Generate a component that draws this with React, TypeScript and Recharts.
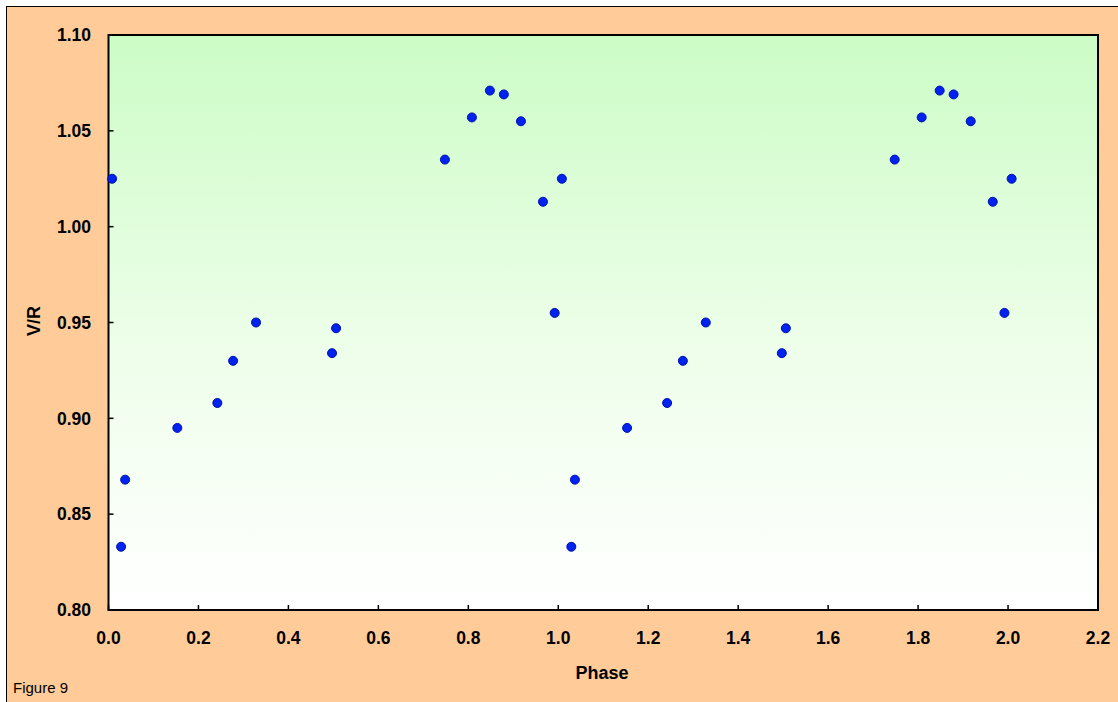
import React from 'react';
import {
  ScatterChart,
  Scatter,
  XAxis,
  YAxis,
  ReferenceArea,
} from 'recharts';

// phase of each observation (the 0-1 cycle repeated once more up to ~2.0)
const phases = [
  0.008, 0.028, 0.037, 0.153, 0.242, 0.277, 0.328, 0.497, 0.506, 0.748, 0.808,
  0.848, 0.879, 0.917, 0.966, 0.992, 1.008, 1.029, 1.037, 1.153, 1.242, 1.277,
  1.328, 1.497, 1.506, 1.748, 1.808, 1.848, 1.879, 1.917, 1.966, 1.992, 2.008,
];
const vrValues = [
  1.025, 0.833, 0.868, 0.895, 0.908, 0.930, 0.950, 0.934, 0.947, 1.035, 1.057,
  1.071, 1.069, 1.055, 1.013, 0.955, 1.025, 0.833, 0.868, 0.895, 0.908, 0.930,
  0.950, 0.934, 0.947, 1.035, 1.057, 1.071, 1.069, 1.055, 1.013, 0.955, 1.025,
];
const xTicks = [0, 0.2, 0.4, 0.6, 0.8, 1.0, 1.2, 1.4, 1.6, 1.8, 2.0, 2.2];
const yTicks = [0.8, 0.85, 0.9, 0.95, 1.0, 1.05, 1.1];

const points = phases.map((p, i) => ({ phase: p, vr: vrValues[i] }));

const FONT = '"Liberation Sans", Arial, sans-serif';
const tickStyle = { fill: '#000', fontFamily: FONT, fontWeight: 700, fontSize: 17.5 };

const Dot = (props: any) => {
  const { cx, cy } = props;
  if (cx == null || cy == null) return null;
  return <circle cx={cx} cy={cy} r={4.5} fill="#0022EE" stroke="#0010B0" strokeWidth={1} />;
};

export default function App() {
  return (
    <div style={{ position: 'absolute', left: 0, top: 0, width: 1118, height: 702, background: '#fff', overflow: 'hidden' }}>
      <div
        style={{
          position: 'absolute',
          left: 6,
          top: 6,
          width: 1118,
          height: 702,
          background: '#FFCC99',
          borderLeft: '1.5px solid #000',
          borderTop: '1.5px solid #000',
        }}
      />
      <div style={{ position: 'absolute', left: 0, top: 0 }}>
        <ScatterChart width={1118} height={702} margin={{ top: 35, right: 20, bottom: 32, left: 8.5 }}>
          <defs>
            <linearGradient id="plotBg" x1="0" y1="0" x2="0" y2="1">
              <stop offset="0%" stopColor="#CCFCC6" />
              <stop offset="55%" stopColor="#EEFEEA" />
              <stop offset="100%" stopColor="#FFFFFF" />
            </linearGradient>
          </defs>
          <ReferenceArea
            x1={0}
            x2={2.2}
            y1={0.8}
            y2={1.1}
            fill="url(#plotBg)"
            fillOpacity={1}
            stroke="#000"
            strokeWidth={2}
          />
          <XAxis
            type="number"
            dataKey="phase"
            domain={[0, 2.2]}
            ticks={xTicks}
            tickFormatter={(v: number) => v.toFixed(1)}
            height={60}
            axisLine={false}
            tickSize={-5}
            tickMargin={27}
            tickLine={{ stroke: '#000', strokeWidth: 1.5 }}
            tick={tickStyle}
            interval={0}
          />
          <YAxis
            type="number"
            dataKey="vr"
            domain={[0.8, 1.1]}
            ticks={yTicks}
            tickFormatter={(v: number) => v.toFixed(2)}
            width={100}
            axisLine={false}
            tickSize={-5}
            tickMargin={22.5}
            tickLine={{ stroke: '#000', strokeWidth: 1.5 }}
            tick={tickStyle}
            interval={0}
          />
          <Scatter data={points} shape={Dot} isAnimationActive={false} />
          <text x={602} y={679} textAnchor="middle" fontFamily={FONT} fontWeight={700} fontSize={18} fill="#000">
            Phase
          </text>
          <text
            transform="translate(40,321) rotate(-90)"
            textAnchor="middle"
            fontFamily={FONT}
            fontWeight={700}
            fontSize={18}
            fill="#000"
          >
            V/R
          </text>
          <text x={132} y={68} fontFamily={FONT} fontWeight={700} fontSize={22.5} fill="#000">
            Hα
          </text>
          <text x={180} y={68} fontFamily={FONT} fontWeight={700} fontSize={23.5} fill="#000">
            HR2142
          </text>
          <text x={198} y={90} textAnchor="middle" fontFamily={FONT} fontWeight={700} fontSize={14.5} fill="#000">
            2003/09-2004/04
          </text>
          <text x={125} y={126} fontFamily={FONT} fontWeight={700} fontSize={15.5} fill="#000">
            Phase: 134.75-137.24
          </text>
          <text x={13} y={693} fontFamily={FONT} fontSize={15} fill="#000">
            Figure 9
          </text>
        </ScatterChart>
      </div>
    </div>
  );
}
